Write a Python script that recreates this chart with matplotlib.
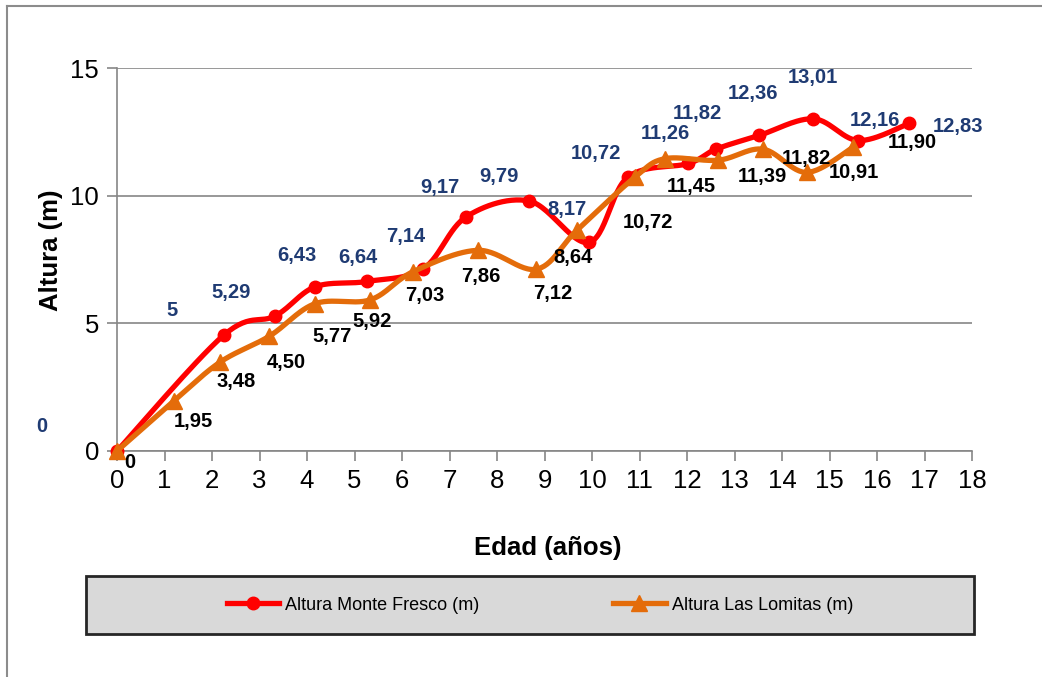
import numpy as np
import matplotlib
matplotlib.use("Agg")
import matplotlib.pyplot as plt
from matplotlib.patches import Rectangle
from matplotlib.lines import Line2D

plt.rcParams['font.family'] = ['Liberation Sans', 'DejaVu Sans']

# ---------------- data ----------------
mf_age = [0, 2.25, 3.33, 4.17, 5.26, 6.45, 7.35, 8.68, 9.94, 10.75, 12.03, 12.61, 13.52, 14.66, 15.61, 16.68]
mf_height = [0, 4.54, 5.29, 6.43, 6.64, 7.14, 9.17, 9.79, 8.17, 10.72, 11.26, 11.82, 12.36, 13.01, 12.16, 12.83]
mf_labels = ["0", "5", "5,29", "6,43", "6,64", "7,14", "9,17", "9,79", "8,17", "10,72",
             "11,26", "11,82", "12,36", "13,01", "12,16", "12,83"]

ll_age = [0, 1.19, 2.17, 3.21, 4.17, 5.33, 6.24, 7.61, 8.83, 9.68, 10.9, 11.54, 12.66, 13.6, 14.52, 15.5]
ll_height = [0, 1.95, 3.48, 4.50, 5.77, 5.92, 7.03, 7.86, 7.12, 8.64, 10.72, 11.45, 11.39, 11.82, 10.91, 11.90]
ll_labels = ["0", "1,95", "3,48", "4,50", "5,77", "5,92", "7,03", "7,86", "7,12", "8,64",
             "10,72", "11,45", "11,39", "11,82", "10,91", "11,90"]

series_names = ["Altura Monte Fresco (m)", "Altura Las Lomitas (m)"]
x_ticks = list(range(0, 19))
y_ticks = [0, 5, 10, 15]

# label offsets (pixels, dx right, dy up)
mf_off = [(-75, 24), (-52, 25), (-44, 23), (-18, 31), (-9, 24), (-18, 32), (-26, 29), (-30, 25),
          (-22, 33), (-32, 24), (-23, 30), (-19, 36), (-6, 42), (0, 41), (16, 20), (49, -3)]
ll_off = [(13, -12), (20, -20), (16, -19), (17, -26), (17, -33), (2, -22), (11, -24), (2, -26),
          (16, -24), (-4, -27), (13, -45), (26, -28), (44, -16), (43, -9), (47, 0), (59, 5)]

RED = "#ff0000"
ORANGE = "#e46c0a"
BLUE = "#1f3b73"
GRID = "#868686"


def smooth(x, y, n=30):
    x = np.asarray(x, float)
    y = np.asarray(y, float)
    P = np.column_stack([x, y])
    out = []
    m = len(P)
    t = np.linspace(0, 1, n)[:, None]
    for i in range(m - 1):
        p0 = P[i]
        p3 = P[i + 1]
        pm = P[i - 1] if i > 0 else P[i]
        pp = P[i + 2] if i + 2 < m else P[i + 1]
        c1 = p0 + (p3 - pm) / 6.0
        c2 = p3 - (pp - p0) / 6.0
        seg = ((1 - t) ** 3) * p0 + 3 * ((1 - t) ** 2) * t * c1 + 3 * (1 - t) * t ** 2 * c2 + t ** 3 * p3
        out.append(seg if i == 0 else seg[1:])
    s = np.vstack(out)
    return s[:, 0], s[:, 1]


W, H = 1042, 677
fig = plt.figure(figsize=(W / 100, H / 100), dpi=100)

# outer chart border (left & top visible)
fig.add_artist(Line2D([7 / W, 7 / W], [0, (H - 6) / H], color="#8c8c8c", lw=1.5, transform=fig.transFigure))
fig.add_artist(Line2D([7 / W, 1], [(H - 6) / H, (H - 6) / H], color="#8c8c8c", lw=1.5, transform=fig.transFigure))

ax = fig.add_axes([117 / W, (H - 451) / H, 855 / W, 383 / H])
ax.set_xlim(0, 18)
ax.set_ylim(0, 15)
ax.set_xticks(x_ticks)
ax.set_yticks(y_ticks)
ax.grid(axis="y", color=GRID, lw=1.2)
ax.set_axisbelow(True)
for s in ["top", "right"]:
    ax.spines[s].set_visible(False)
for s in ["left", "bottom"]:
    ax.spines[s].set_color(GRID)
    ax.spines[s].set_linewidth(1.2)
ax.tick_params(axis="both", direction="out", length=7, width=1.2, color=GRID,
               labelsize=18.5, labelcolor="black", pad=6)

sx, sy = smooth(mf_age, mf_height)
ax.plot(sx, sy, color=RED, lw=3.8, solid_capstyle="round", zorder=3, clip_on=False)
ax.plot(mf_age, mf_height, ls="none", marker="o", ms=9, color=RED, zorder=4, clip_on=False)

sx2, sy2 = smooth(ll_age, ll_height)
ax.plot(sx2, sy2, color=ORANGE, lw=3.8, solid_capstyle="round", zorder=5, clip_on=False)
ax.plot(ll_age, ll_height, ls="none", marker="^", ms=12, color=ORANGE, zorder=6, clip_on=False)

k = 72 / 100
for xv, yv, lab, (dx, dy) in zip(mf_age, mf_height, mf_labels, mf_off):
    ax.annotate(lab, (xv, yv), xytext=(dx * k, dy * k), textcoords="offset points",
                ha="center", va="center", fontsize=14.5, fontweight="bold", color=BLUE,
                annotation_clip=False, zorder=7)
for xv, yv, lab, (dx, dy) in zip(ll_age, ll_height, ll_labels, ll_off):
    ax.annotate(lab, (xv, yv), xytext=(dx * k, dy * k), textcoords="offset points",
                ha="center", va="center", fontsize=14.5, fontweight="bold", color="black",
                annotation_clip=False, zorder=7)

# axis titles
fig.text(548 / W, 1 - 548 / H, "Edad (años)", ha="center", va="center",
         fontsize=18.5, fontweight="bold")
fig.text(51 / W, 1 - 250 / H, "Altura (m)", ha="center", va="center",
         rotation=90, fontsize=18.5, fontweight="bold")

# legend box
box = Rectangle((86 / W, 1 - 634 / H), (974 - 86) / W, (634 - 576) / H, transform=fig.transFigure,
                facecolor="#d9d9d9", edgecolor="#262626", lw=2, zorder=1)
fig.add_artist(box)
handles = [Line2D([], [], color=RED, lw=3.8, marker="o", ms=9),
           Line2D([], [], color=ORANGE, lw=3.8, marker="^", ms=11)]
leg = fig.legend(handles, series_names, loc="center", bbox_to_anchor=(540 / W, 1 - 605 / H),
                 ncol=2, frameon=False, fontsize=13, handlelength=2.9, handletextpad=0.35,
                 columnspacing=7.4, numpoints=1)
leg.set_zorder(2)

fig.savefig("out.png", dpi=100)
